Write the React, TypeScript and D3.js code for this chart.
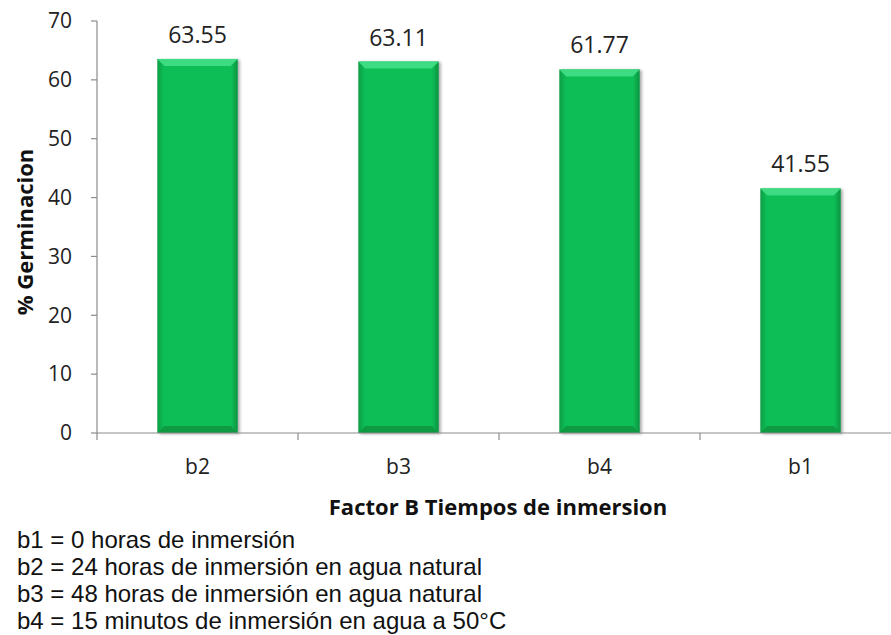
import React from "react";
import * as d3 from "d3";

const categories = ["b2", "b3", "b4", "b1"];
const values = [63.55, 63.11, 61.77, 41.55];
const valueLabels = ["63.55", "63.11", "61.77", "41.55"];
const yTicks = [0, 10, 20, 30, 40, 50, 60, 70];
const legendLines = [
  "b1 = 0 horas de inmersión",
  "b2 = 24 horas de inmersión en agua natural",
  "b3 = 48 horas de inmersión en agua natural",
  "b4 = 15 minutos de inmersión en agua a 50°C",
];
const yTitle = "% Germinacion";
const xTitle = "Factor B Tiempos de inmersion";

const W = 891;
const H = 635;
const axisX = 97;
const axisRight = 901;
const yTop = 21;
const yBottom = 433;
const font = "'Open Sans', sans-serif";

export default function App() {
  const x = d3
    .scaleBand<string>()
    .domain(categories)
    .range([axisX, axisRight])
    .paddingInner(0.6)
    .paddingOuter(0.3);
  const step = x.step();
  const y = d3.scaleLinear().domain([0, 70]).range([yBottom, yTop]);
  const bw = x.bandwidth();
  const bev = 7;

  return (
    <svg
      width={W}
      height={H}
      style={{ position: "absolute", left: 0, top: 0, background: "#fff" }}
    >
      <defs>
        <linearGradient id="barSide" x1="0" x2="1" y1="0" y2="0">
          <stop offset="0" stopColor="#0a9e45" />
          <stop offset="0.08" stopColor="#0bbd57" />
          <stop offset="0.92" stopColor="#0bbd57" />
          <stop offset="1" stopColor="#08933f" />
        </linearGradient>
        <filter id="shadow" x="-20%" y="-20%" width="140%" height="140%">
          <feGaussianBlur in="SourceAlpha" stdDeviation="1.5" />
          <feOffset dx="1.5" dy="1" result="ob" />
          <feComponentTransfer>
            <feFuncA type="linear" slope="0.35" />
          </feComponentTransfer>
          <feMerge>
            <feMergeNode />
            <feMergeNode in="SourceGraphic" />
          </feMerge>
        </filter>
      </defs>

      {/* bars */}
      {categories.map((c, i) => {
        const x0 = x(c)!;
        const x1 = x0 + bw;
        const yt = y(values[i]);
        const yb = y(0);
        return (
          <g key={c}>
            <g filter="url(#shadow)">
              <rect x={x0} y={yt} width={bw} height={yb - yt} fill="url(#barSide)" />
              <polygon
                points={`${x0},${yt} ${x1},${yt} ${x1 - bev},${yt + bev} ${x0 + bev},${yt + bev}`}
                fill="#3ddc82"
              />
              <polygon
                points={`${x0},${yb} ${x1},${yb} ${x1 - bev},${yb - bev} ${x0 + bev},${yb - bev}`}
                fill="#079a42"
              />
            </g>
            <text
              x={x0 + bw / 2}
              y={yt - 16}
              textAnchor="middle"
              fontFamily={font}
              fontSize={23}
              fill="#222"
            >
              {valueLabels[i]}
            </text>
          </g>
        );
      })}

      {/* y axis */}
      <line x1={axisX} x2={axisX} y1={yTop} y2={yBottom} stroke="#8c8c8c" strokeWidth={1.2} />
      {yTicks.map((t) => (
        <g key={t}>
          <line x1={axisX - 6} x2={axisX} y1={y(t)} y2={y(t)} stroke="#8c8c8c" strokeWidth={1.2} />
          <text
            x={axisX - 25}
            y={y(t)}
            dy="0.35em"
            textAnchor="end"
            fontFamily={font}
            fontSize={21}
            fill="#222"
          >
            {t}
          </text>
        </g>
      ))}

      {/* x axis */}
      <line x1={axisX} x2={axisRight} y1={yBottom} y2={yBottom} stroke="#8c8c8c" strokeWidth={1.2} />
      {d3.range(categories.length + 1).map((k) => (
        <line
          key={k}
          x1={axisX + k * step}
          x2={axisX + k * step}
          y1={yBottom}
          y2={yBottom + 7}
          stroke="#8c8c8c"
          strokeWidth={1.2}
        />
      ))}
      {categories.map((c) => (
        <text
          key={c}
          x={x(c)! + bw / 2}
          y={474}
          textAnchor="middle"
          fontFamily={font}
          fontSize={21}
          fill="#222"
        >
          {c}
        </text>
      ))}

      {/* titles */}
      <text
        x={498}
        y={515}
        textAnchor="middle"
        fontFamily={font}
        fontWeight={700}
        fontSize={22}
        fill="#111"
      >
        {xTitle}
      </text>
      <text
        transform={`translate(33,${232}) rotate(-90)`}
        textAnchor="middle"
        fontFamily={font}
        fontWeight={700}
        fontSize={22}
        fill="#111"
      >
        {yTitle}
      </text>

      {/* legend notes */}
      {legendLines.map((l, i) => (
        <text
          key={i}
          x={17}
          y={548 + i * 27}
          fontFamily="'Liberation Sans', Arial, sans-serif"
          fontSize={24}
          fill="#111"
        >
          {l}
        </text>
      ))}
    </svg>
  );
}
